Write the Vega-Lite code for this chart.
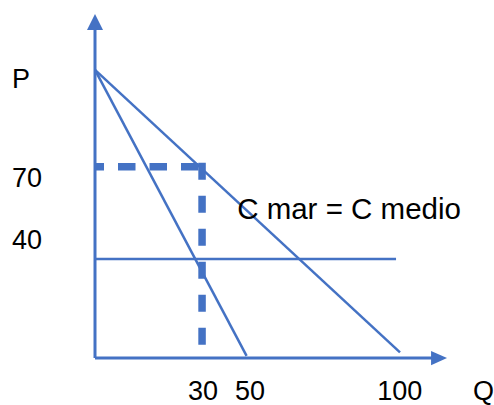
{
  "$schema": "https://vega.github.io/schema/vega-lite/v6.json",
  "width": 494,
  "height": 405,
  "autosize": {"type": "fit", "contains": "padding"},
  "padding": 0,
  "config": {"view": {"stroke": null}},
  "datasets": {
    "curves": [
      {"s": "demand", "i": 0, "q": 0, "p": 100},
      {"s": "demand", "i": 1, "q": 100, "p": 2},
      {"s": "mr", "i": 0, "q": 0, "p": 100},
      {"s": "mr", "i": 1, "q": 49.7, "p": 0.8},
      {"s": "mc", "i": 0, "q": 0, "p": 34.4},
      {"s": "mc", "i": 1, "q": 98.7, "p": 34.4}
    ],
    "axes": [
      {"s": "yaxis", "i": 0, "q": 0, "p": 0},
      {"s": "yaxis", "i": 1, "q": 0, "p": 114.5},
      {"s": "xaxis", "i": 0, "q": 0, "p": 0},
      {"s": "xaxis", "i": 1, "q": 110.5, "p": 0}
    ],
    "arrowUp": [{"q": 0, "p": 116.6}],
    "arrowRight": [{"q": 112.8, "p": 0}],
    "dashH": [
      {"i": 0, "q": 0, "p": 66.4},
      {"i": 1, "q": 35.1, "p": 66.4}
    ],
    "dashV": [
      {"i": 0, "q": 35.1, "p": 67.8},
      {"i": 1, "q": 35.1, "p": 4.5}
    ],
    "labels": [
      {"t": "P", "q": -27.2, "p": 93.8},
      {"t": "70", "q": -27.2, "p": 59.5},
      {"t": "40", "q": -27.2, "p": 37.7},
      {"t": "30", "q": 30.5, "p": -14.5},
      {"t": "50", "q": 45.9, "p": -14.5},
      {"t": "100", "q": 92.5, "p": -14.5},
      {"t": "Q", "q": 123.9, "p": -14.5}
    ],
    "note": [
      {"t": "C mar = C medio", "q": 46.6, "p": 48.4}
    ]
  },
  "layer": [
    {
      "data": {"name": "curves"},
      "mark": {"type": "line", "color": "#4472C4", "strokeWidth": 2.5},
      "encoding": {
        "x": {"field": "q", "type": "quantitative", "scale": {"domain": [-31.15, 130.82], "nice": false, "zero": false}, "axis": null},
        "y": {"field": "p", "type": "quantitative", "scale": {"domain": [-15.92, 124.22], "nice": false, "zero": false}, "axis": null},
        "detail": {"field": "s"},
        "order": {"field": "i"}
      }
    },
    {
      "data": {"name": "axes"},
      "mark": {"type": "line", "color": "#4472C4", "strokeWidth": 3},
      "encoding": {
        "x": {"field": "q", "type": "quantitative", "scale": {"domain": [-31.15, 130.82], "nice": false, "zero": false}, "axis": null},
        "y": {"field": "p", "type": "quantitative", "scale": {"domain": [-15.92, 124.22], "nice": false, "zero": false}, "axis": null},
        "detail": {"field": "s"},
        "order": {"field": "i"}
      }
    },
    {
      "data": {"name": "arrowUp"},
      "mark": {"type": "point", "shape": "M0,-1L1,1L-1,1Z", "size": 256, "filled": true, "opacity": 1, "color": "#4472C4"},
      "encoding": {
        "x": {"field": "q", "type": "quantitative", "scale": {"domain": [-31.15, 130.82], "nice": false, "zero": false}, "axis": null},
        "y": {"field": "p", "type": "quantitative", "scale": {"domain": [-15.92, 124.22], "nice": false, "zero": false}, "axis": null}
      }
    },
    {
      "data": {"name": "arrowRight"},
      "mark": {"type": "point", "shape": "M1,0L-1,0.9L-1,-0.9Z", "size": 256, "filled": true, "opacity": 1, "color": "#4472C4"},
      "encoding": {
        "x": {"field": "q", "type": "quantitative", "scale": {"domain": [-31.15, 130.82], "nice": false, "zero": false}, "axis": null},
        "y": {"field": "p", "type": "quantitative", "scale": {"domain": [-15.92, 124.22], "nice": false, "zero": false}, "axis": null}
      }
    },
    {
      "data": {"name": "dashH"},
      "mark": {"type": "line", "color": "#4472C4", "strokeWidth": 7.5, "strokeCap": "butt", "strokeDash": [17.5, 14], "strokeDashOffset": 8.5},
      "encoding": {
        "x": {"field": "q", "type": "quantitative", "scale": {"domain": [-31.15, 130.82], "nice": false, "zero": false}, "axis": null},
        "y": {"field": "p", "type": "quantitative", "scale": {"domain": [-15.92, 124.22], "nice": false, "zero": false}, "axis": null},
        "order": {"field": "i"}
      }
    },
    {
      "data": {"name": "dashV"},
      "mark": {"type": "line", "color": "#4472C4", "strokeWidth": 7.5, "strokeCap": "butt", "strokeDash": [17, 16]},
      "encoding": {
        "x": {"field": "q", "type": "quantitative", "scale": {"domain": [-31.15, 130.82], "nice": false, "zero": false}, "axis": null},
        "y": {"field": "p", "type": "quantitative", "scale": {"domain": [-15.92, 124.22], "nice": false, "zero": false}, "axis": null},
        "order": {"field": "i"}
      }
    },
    {
      "data": {"name": "labels"},
      "mark": {"type": "text", "align": "left", "baseline": "alphabetic", "font": "Liberation Sans", "fontSize": 27, "color": "#000000"},
      "encoding": {
        "x": {"field": "q", "type": "quantitative", "scale": {"domain": [-31.15, 130.82], "nice": false, "zero": false}, "axis": null},
        "y": {"field": "p", "type": "quantitative", "scale": {"domain": [-15.92, 124.22], "nice": false, "zero": false}, "axis": null},
        "text": {"field": "t"}
      }
    },
    {
      "data": {"name": "note"},
      "mark": {"type": "text", "align": "left", "baseline": "alphabetic", "font": "Liberation Sans", "fontSize": 29.5, "color": "#000000"},
      "encoding": {
        "x": {"field": "q", "type": "quantitative", "scale": {"domain": [-31.15, 130.82], "nice": false, "zero": false}, "axis": null},
        "y": {"field": "p", "type": "quantitative", "scale": {"domain": [-15.92, 124.22], "nice": false, "zero": false}, "axis": null},
        "text": {"field": "t"}
      }
    }
  ]
}
